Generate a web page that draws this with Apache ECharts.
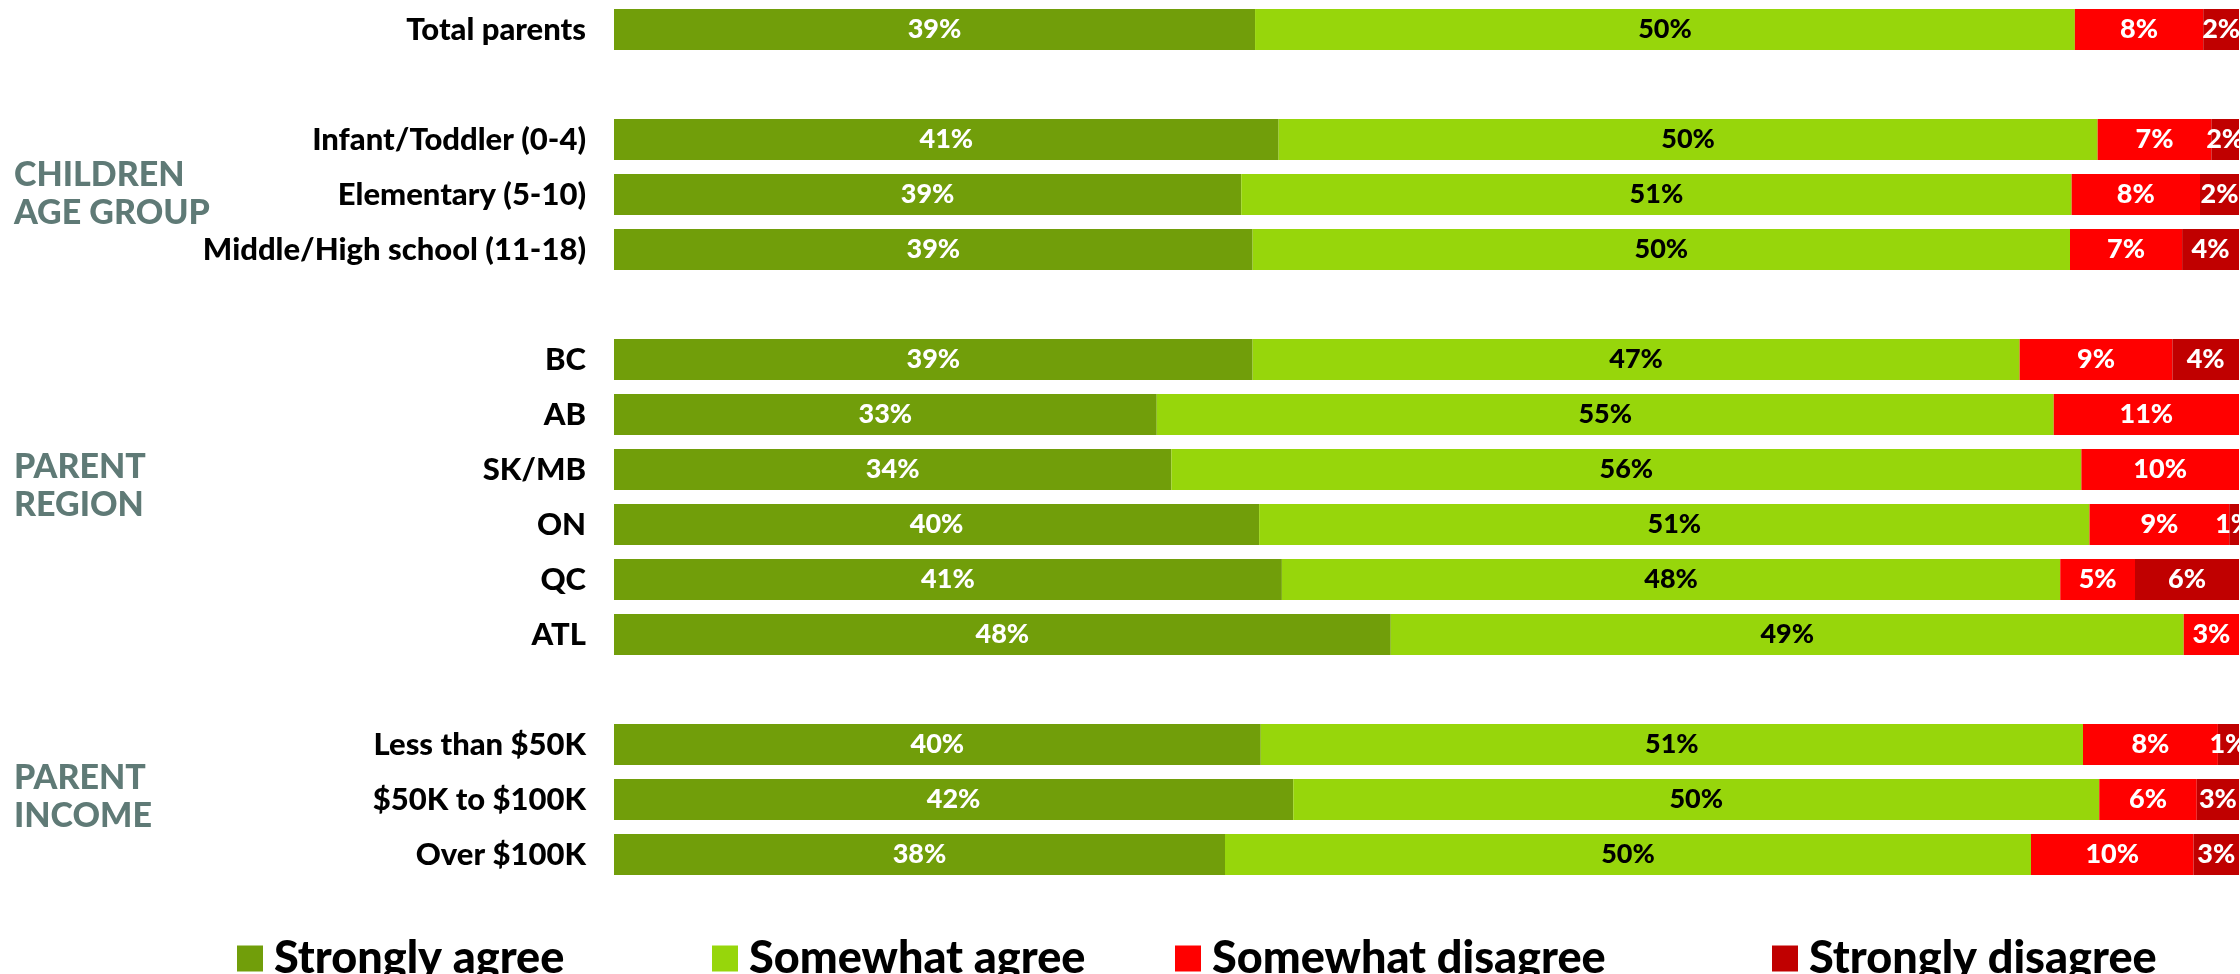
<!DOCTYPE html>
<html>
<head>
<meta charset="utf-8">
<script src="https://cdn.jsdelivr.net/npm/echarts@6/dist/echarts.min.js"></script>
<style>
html,body{margin:0;padding:0;background:#fff;}
#chart{width:2240px;height:974px;}
</style>
</head>
<body>
<div id="chart"></div>
<script>
// Row groups (a blank row separates each group)
const groupTotal = ['Total parents'];
const groupAge = ['Infant/Toddler (0-4)', 'Elementary (5-10)', 'Middle/High school (11-18)'];
const groupRegion = ['BC', 'AB', 'SK/MB', 'ON', 'QC', 'ATL'];
const groupIncome = ['Less than $50K', '$50K to $100K', 'Over $100K'];

const seriesNames = ['Strongly agree', 'Somewhat agree', 'Somewhat disagree', 'Strongly disagree'];

// Values (%) in row order: Total, Age x3, Region x6, Income x3
const stronglyAgree    = [39.45, 40.9, 38.6, 39.3, 39.3, 33.4, 34.3, 39.7, 41.1, 47.8, 39.8, 41.8, 37.6];
const somewhatAgree    = [50.45, 50.4, 51.1, 50.3, 47.2, 55.2, 56.0, 51.1, 47.9, 48.8, 50.6, 49.6, 49.6];
const somewhatDisagree = [7.9, 7.0, 7.9, 6.9, 9.4, 11.4, 9.7, 8.6, 4.6, 3.4, 8.3, 6.0, 10.0];
const stronglyDisagree = [2.2, 1.7, 2.4, 3.5, 4.1, 0, 0, 0.6, 6.4, 0, 1.3, 2.6, 2.8];

const groupTitles = ['CHILDREN\nAGE GROUP', 'PARENT\nREGION', 'PARENT\nINCOME'];

const colors = ['#719E0A', '#97D60B', '#FF0000', '#C00000'];
const labelColors = ['#ffffff', '#000000', '#ffffff', '#ffffff'];
const FONT = 'Lato, "Open Sans", sans-serif';

// Build category list with blank spacer rows
const groups = [groupTotal, groupAge, groupRegion, groupIncome];
const categories = [];
const rowIndex = []; // index into value arrays or -1 for spacer
let k = 0;
groups.forEach((g, gi) => {
  if (gi > 0) { categories.push(' '.repeat(gi)); rowIndex.push(-1); }
  g.forEach(name => { categories.push(name); rowIndex.push(k++); });
});
const allValues = [stronglyAgree, somewhatAgree, somewhatDisagree, stronglyDisagree];

const series = allValues.map((vals, si) => ({
  name: seriesNames[si],
  type: 'bar',
  stack: 'total',
  barWidth: 41,
  itemStyle: { color: colors[si] },
  emphasis: { disabled: true },
  label: {
    show: true,
    position: 'inside',
    color: labelColors[si],
    fontFamily: FONT,
    fontWeight: 900,
    fontSize: 27,
    formatter: p => (p.value > 0 ? Math.round(p.value) + '%' : '')
  },
  data: rowIndex.map(i => (i < 0 ? '-' : vals[i]))
}));

const legendLefts = [232, 707, 1170, 1767];
const legends = seriesNames.map((n, i) => ({
  data: [n],
  left: legendLefts[i],
  top: 931,
  icon: 'rect',
  itemWidth: 26,
  itemHeight: 26,
  selectedMode: false,
  textStyle: {
    fontFamily: FONT,
    fontWeight: 900,
    fontSize: 45,
    color: '#000',
    lineHeight: 42,
    padding: [0, 0, 0, 6]
  }
}));

const chart = echarts.init(document.getElementById('chart'), null, { renderer: 'canvas' });
chart.setOption({
  animation: false,
  backgroundColor: '#ffffff',
  color: colors,
  grid: { left: 614, right: 1, top: 2, height: 880, containLabel: false },
  xAxis: { type: 'value', min: 0, max: 100, show: false },
  yAxis: {
    type: 'category',
    inverse: true,
    data: categories,
    axisLine: { show: false },
    axisTick: { show: false },
    axisLabel: {
      margin: 28,
      fontFamily: FONT,
      fontWeight: 900,
      fontSize: 31,
      color: '#000'
    }
  },
  legend: legends,
  graphic: [
    { type: 'text', left: 14, top: 156, style: { text: groupTitles[0], font: '900 34px ' + FONT, fill: '#5F7A76', lineHeight: 38 } },
    { type: 'text', left: 14, top: 448, style: { text: groupTitles[1], font: '900 34px ' + FONT, fill: '#5F7A76', lineHeight: 38 } },
    { type: 'text', left: 14, top: 759, style: { text: groupTitles[2], font: '900 34px ' + FONT, fill: '#5F7A76', lineHeight: 38 } }
  ],
  series: series
});
</script>
</body>
</html>
